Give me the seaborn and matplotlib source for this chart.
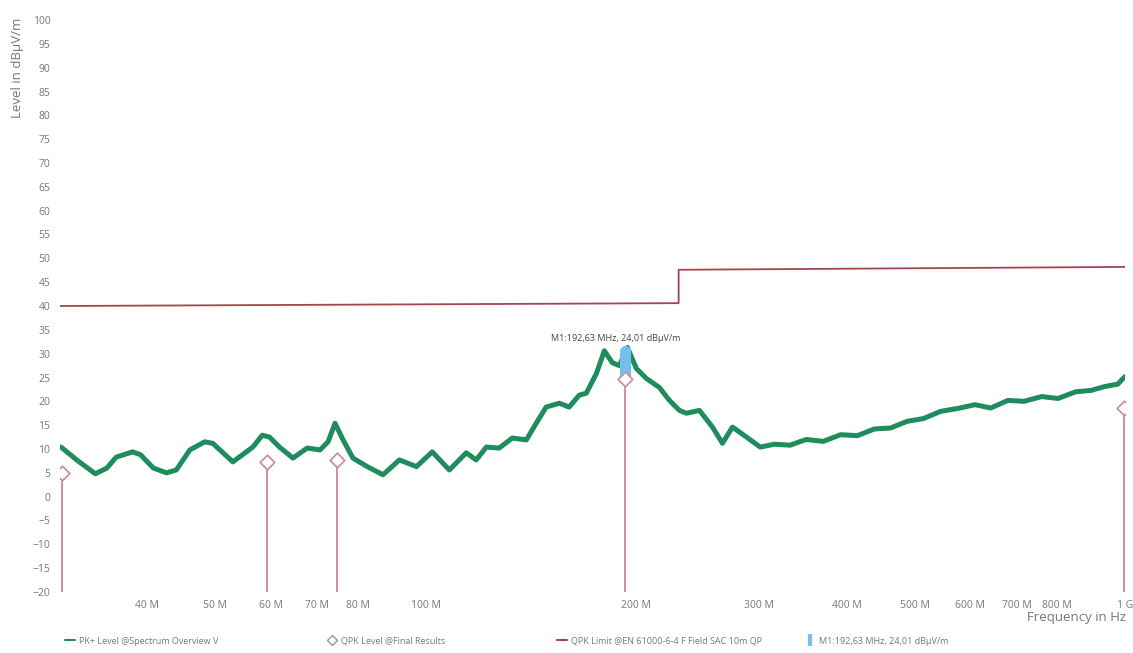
import numpy as np
import pandas as pd
import seaborn as sns
import matplotlib.pyplot as plt
from matplotlib.lines import Line2D

# PK+ trace (MHz, dBuV/m)
pk_freq = [30.1, 31.7, 33.7, 35.0, 36.1, 38.1, 39.1, 40.8, 42.6, 44.0, 46.0, 48.3, 49.6,
           53.0, 56.6, 58.4, 59.8, 61.8, 64.6, 67.7, 70.6, 72.5, 74.2, 76.2, 78.7, 82.5,
           86.9, 91.7, 97.0, 102.2, 108.1, 114.3, 118.1, 122.1, 127.4, 133.0, 139.3, 143.9,
           148.7, 155.3, 160.4, 165.8, 169.7, 175.4, 180.1, 184.9, 189.2, 194.3, 200.1,
           206.8, 215.9, 223.1, 230.6, 236.0, 246.3, 257.1, 265.7, 274.6, 287.6, 300.9,
           315.0, 332.0, 350.0, 370.3, 392.0, 414.3, 438.0, 462.0, 488.0, 515.3, 545.0,
           576.5, 610.0, 642.8, 680.0, 717.1, 760.0, 801.9, 850.0, 894.5, 935.0, 976.1, 1000.0]
pk_level = [10.4, 7.7, 4.8, 6.0, 8.3, 9.4, 8.8, 6.0, 5.0, 5.6, 9.8, 11.5, 11.2,
            7.3, 10.4, 12.9, 12.5, 10.4, 8.1, 10.2, 9.8, 11.5, 15.4, 11.9, 8.1, 6.3,
            4.6, 7.7, 6.3, 9.4, 5.6, 9.2, 7.7, 10.4, 10.2, 12.3, 11.9, 15.4,
            18.8, 19.6, 18.8, 21.3, 21.7, 25.8, 30.6, 28.1, 27.5, 31.3, 26.9,
            24.8, 22.9, 20.2, 18.1, 17.5, 18.1, 14.6, 11.2, 14.6, 12.5, 10.4,
            11.0, 10.8, 12.0, 11.6, 13.0, 12.8, 14.2, 14.4, 15.8, 16.4, 17.9,
            18.5, 19.3, 18.6, 20.2, 20.0, 21.0, 20.6, 22.0, 22.3, 23.1, 23.6, 25.2]

# QPK final results
qpk_freq = [30.2, 59.3, 74.7, 192.63, 998.0]
qpk_level = [5.0, 7.2, 7.6, 24.7, 18.6]

# QPK limit EN 61000-6-4, 10 m
lim_freq = [30, 230, 230, 1000]
lim_level = [40.0, 40.6, 47.6, 48.2]

# marker M1
m1_freq = 192.63
m1_span = [25.2, 30.6]
m1_text = "M1:192,63 MHz, 24,01 dBµV/m"

xticks = [40, 50, 60, 70, 80, 100, 200, 300, 400, 500, 600, 700, 800, 1000]
xlabels = ["40 M", "50 M", "60 M", "70 M", "80 M", "100 M", "200 M", "300 M",
           "400 M", "500 M", "600 M", "700 M", "800 M", "1 G"]

green = "#1f8c5e"
red = "#a4464f"
stem = "#c98a93"
blue = "#74c0ea"
grey = "#777777"

sns.set_theme(style="white")
plt.rcParams['font.family'] = ['Open Sans', 'DejaVu Sans']

fig = plt.figure(figsize=(11.33, 6.53), dpi=100)
ax = fig.add_axes([60 / 1133, 1 - 592 / 653, 1065 / 1133, 572 / 653])

df_pk = pd.DataFrame({"Frequency": pk_freq, "Level": pk_level})
df_lim = pd.DataFrame({"Frequency": lim_freq, "Level": lim_level})
df_qpk = pd.DataFrame({"Frequency": qpk_freq, "Level": qpk_level})

sns.lineplot(data=df_lim, x="Frequency", y="Level", sort=False, estimator=None,
             color=red, lw=1.3, ax=ax)
ax.vlines(df_qpk["Frequency"], -20, df_qpk["Level"], color=stem, lw=1.3, zorder=2)
sns.lineplot(data=df_pk, x="Frequency", y="Level", sort=False, estimator=None,
             color=green, lw=3.6, ax=ax)
ax.plot([m1_freq, m1_freq], m1_span, color=blue, lw=8, solid_capstyle="round", zorder=4)
sns.scatterplot(data=df_qpk, x="Frequency", y="Level", marker="D", s=55, color="white",
                edgecolor=stem, linewidth=1.2, zorder=5, ax=ax)
ax.text(m1_freq * 0.97, 32.2, m1_text, ha="center", va="bottom", fontsize=6.5, color="#444444")

ax.set_xscale("log")
ax.set_xlim(30, 1000)
ax.set_ylim(-20, 100)
ax.set_xticks(xticks)
ax.set_xticklabels(xlabels)
ax.minorticks_off()
ax.set_yticks(np.arange(-20, 101, 5))
ax.tick_params(axis="both", labelsize=7.5, labelcolor=grey, color="#cccccc", length=3,
               width=0.8, direction="out")
ax.tick_params(axis="x", direction="in", pad=6)
ax.tick_params(axis="y", pad=4)
for s in ax.spines.values():
    s.set_visible(False)
ax.set_xlabel("")
ax.set_ylabel("")

fig.text(18 / 1133, 1 - 18 / 653, "Level in dBµV/m", rotation=90, ha="center", va="top",
         fontsize=9.5, color=grey)
fig.text(1126 / 1133, 1 - 618 / 653, "Frequency in Hz", ha="right", va="center",
         fontsize=9.5, color=grey)

handles = [
    (Line2D([], [], color=green, lw=1.5), "PK+ Level @Spectrum Overview V", 60),
    (Line2D([], [], ls="none", marker="D", mfc="white", mec="#999999", ms=5), "QPK Level @Final Results", 322),
    (Line2D([], [], color=red, lw=1.5), "QPK Limit @EN 61000-6-4 F Field SAC 10m QP", 552),
    (Line2D([], [], ls="none", marker="|", color=blue, ms=8, mew=3), m1_text, 800),
]
for h, lab, px in handles:
    fig.legend([h], [lab], loc="center left", bbox_to_anchor=(px / 1133, 1 - 641 / 653),
               frameon=False, fontsize=6.5, handlelength=1.2, handletextpad=0.4,
               borderpad=0, labelcolor=grey)

fig.savefig("out.png", dpi=100)
